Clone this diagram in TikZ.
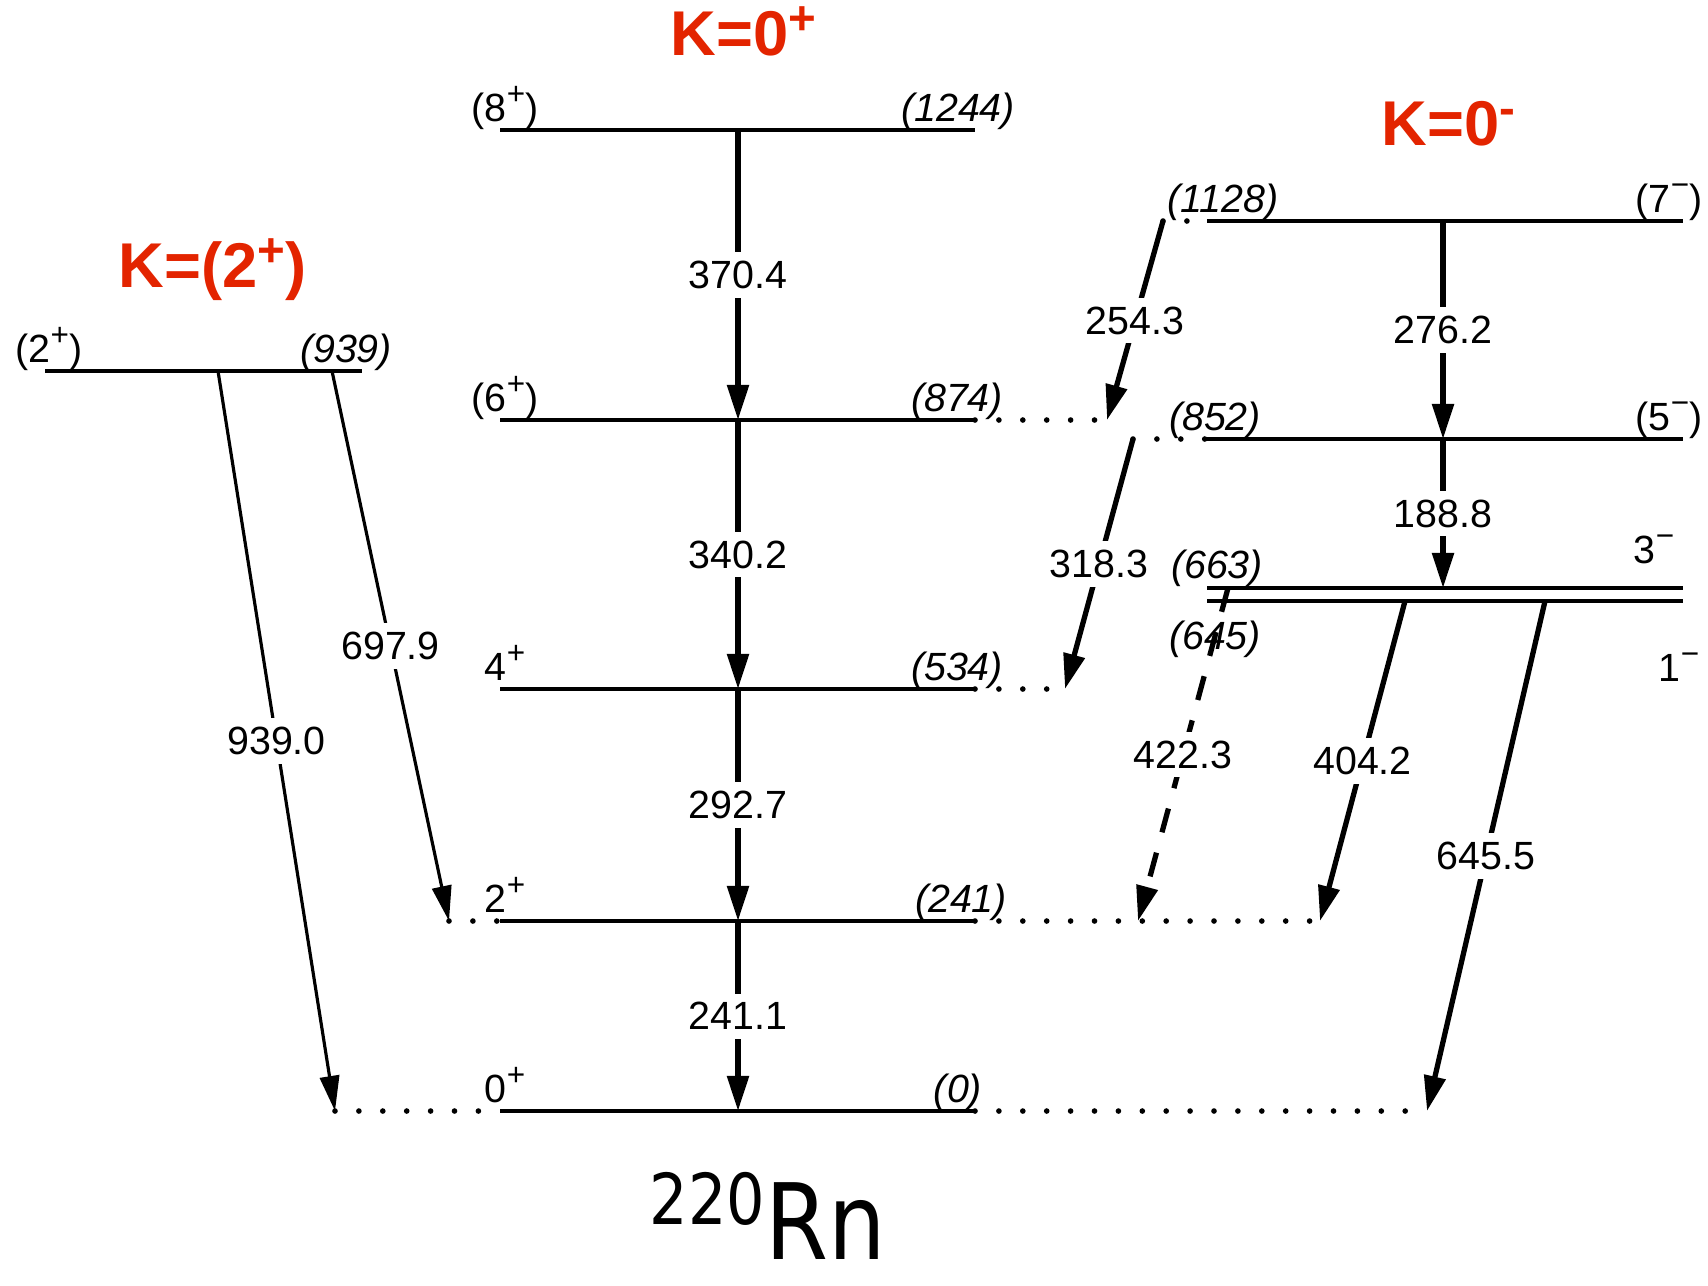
\documentclass[tikz,border=0pt]{standalone}
\usepackage{fontspec}
\setmainfont{Liberation Sans}
\newfontfamily\nucfont[FakeStretch=0.86]{DejaVu Sans}
\usetikzlibrary{arrows.meta}
\definecolor{BandTitle}{RGB}{227,36,0}
\newcommand\spsc[1]{\raisebox{0.42em}{\scalebox{0.8}{#1}}}
\newcommand\bandsup[1]{\raisebox{0.32em}{\scalebox{0.75}{#1}}}

\begin{document}
\begin{tikzpicture}[
    x=0.1mm, y=-0.1mm,
    lvl/.style={line width=1pt},
    sideline/.style={line width=1.6pt, line cap=round, dash pattern=on 0pt off 6.8pt},
    trans/.style={line width=1.5pt, -{Triangle[length=10pt,width=6pt]}},
    weak/.style={line width=0.9pt, -{Triangle[length=10pt,width=5.5pt]}},
    lbl/.style={fill=white, inner sep=2.5pt, font=\fontsize{11.2}{13}\selectfont},
    spin/.style={anchor=base, inner sep=0pt, font=\fontsize{11.2}{13}\selectfont},
    energy/.style={anchor=base, inner sep=0pt, font=\fontsize{11.2}{13}\selectfont\itshape},
    band/.style={anchor=base west, inner sep=0pt, text=BandTitle, font=\fontsize{18}{20}\selectfont\bfseries}
]
\useasboundingbox (0,0) rectangle (1708,1285);

% ground band
\coordinate (g8l) at (500,130);  \coordinate (g8) at (738,130);  \coordinate (g8r) at (975,130);
\coordinate (g6l) at (500,420);  \coordinate (g6) at (738,420);  \coordinate (g6r) at (975,420);
\coordinate (g4l) at (500,689);  \coordinate (g4) at (738,689);  \coordinate (g4r) at (975,689);
\coordinate (g2l) at (500,921);  \coordinate (g2) at (738,921);  \coordinate (g2r) at (975,921);
\coordinate (g0l) at (500,1111); \coordinate (g0) at (738,1111); \coordinate (g0r) at (975,1111);

% octupole band
\coordinate (o7l) at (1207,221); \coordinate (o7) at (1443,221); \coordinate (o7r) at (1683,221);
\coordinate (o5l) at (1207,439); \coordinate (o5) at (1443,439); \coordinate (o5r) at (1683,439);
\coordinate (o3l) at (1207,588); \coordinate (o3) at (1443,588); \coordinate (o3r) at (1683,588);
\coordinate (o1l) at (1207,601); \coordinate (o1r) at (1683,601);

% gamma band
\coordinate (c2l) at (45,371); \coordinate (c2r) at (362,371);

% feet of the side transitions
\coordinate (f7) at (1163,221);  \coordinate (f5) at (1133,439);
\coordinate (f3) at (1228,588);  \coordinate (f1a) at (1405,601); \coordinate (f1b) at (1545,601);
\coordinate (fc0) at (218,371);  \coordinate (fc2) at (332,371);
\coordinate (d6) at (1107,420);  \coordinate (d4) at (1065,689);
\coordinate (d2a) at (1138,921); \coordinate (d2b) at (1320,921); \coordinate (d2l) at (449,921);
\coordinate (d0l) at (335,1111); \coordinate (d0r) at (1427,1111);

% dotted extensions
\draw[sideline] (g6r) -- (d6);
\draw[sideline] (g4r) -- (d4);
\draw[sideline] (g2r) -- (d2b);
\draw[sideline] (d2l) -- (g2l);
\draw[sideline] (d0l) -- (g0l);
\draw[sideline] (g0r) -- (d0r);
\draw[sideline] (f7) -- (o7l);
\draw[sideline] (f5) -- (o5l);

% levels
\draw[lvl] (g8l) -- (g8r);
\draw[lvl] (g6l) -- (g6r);
\draw[lvl] (g4l) -- (g4r);
\draw[lvl] (g2l) -- (g2r);
\draw[lvl] (g0l) -- (g0r);
\draw[lvl] (o7l) -- (o7r);
\draw[lvl] (o5l) -- (o5r);
\draw[lvl] (o3l) -- (o3r);
\draw[lvl] (o1l) -- (o1r);
\draw[lvl] (c2l) -- (c2r);

% level labels
\node[spin] (s8) at (505,121) {(8\spsc{+})};
\node[energy] (e8) at (958,121) {(1244)};
\node[spin] (s6) at (505,411) {(6\spsc{+})};
\node[energy] (e6) at (957,411) {(874)};
\node[spin] (s4) at (505,680) {4\spsc{+}};
\node[energy] (e4) at (957,680) {(534)};
\node[spin] (s2) at (505,912) {2\spsc{+}};
\node[energy] (e2) at (961,912) {(241)};
\node[spin] (s0) at (505,1102) {0\spsc{+}};
\node[energy] (e0) at (958,1102) {(0)};

\node[energy] (e7) at (1223,212) {(1128)};
\node[spin] (s7) at (1669,212) {(7\spsc{−})};
\node[energy] (e5) at (1215,430) {(852)};
\node[spin] (s5) at (1669,430) {(5\spsc{−})};
\node[energy] (e3) at (1217,578) {(663)};
\node[spin] (s3) at (1654,563) {3\spsc{−}};
\node[energy] (e1) at (1215,649) {(645)};
\node[spin] (s1) at (1679,681) {1\spsc{−}};

\node[spin] (sc2) at (49,362) {(2\spsc{+})};
\node[energy] (ec2) at (346,362) {(939)};

% transitions
\draw[trans] (g8) -- node[lbl] {370.4} (g6);
\draw[trans] (g6) -- node[lbl] {340.2} (g4);
\draw[trans] (g4) -- node[lbl] {292.7} (g2);
\draw[trans] (g2) -- node[lbl] {241.1} (g0);
\draw[trans] (o7) -- node[lbl] {276.2} (o5);
\draw[trans] (o5) -- node[lbl] {188.8} (o3);
\draw[trans] (f7) -- node[lbl] {254.3} (d6);
\draw[trans] (f5) -- node[lbl] {318.3} (d4);
\draw[trans, dash pattern=on 7pt off 6pt] (f3) -- node[lbl] {422.3} (d2a);
\draw[trans] (f1a) -- node[lbl] {404.2} (d2b);
\draw[trans] (f1b) -- node[lbl] {645.5} (d0r);
\draw[weak] (fc0) -- node[lbl] {939.0} (d0l);
\draw[weak] (fc2) -- node[lbl] {697.9} (d2l);

% band titles
\node[band] (t0p) at (670,55) {K=0\bandsup{+}};
\node[band] (t0m) at (1381,145) {K=0\bandsup{-}};
\node[band] (t2p) at (118,287) {K=(2\bandsup{+})};

\node[anchor=base west, inner sep=0pt] (nuc) at (649,1259)
  {\nucfont\fontsize{20}{20}\selectfont\raisebox{9.7pt}{220}\fontsize{30}{30}\selectfont Rn};
\end{tikzpicture}
\end{document}
